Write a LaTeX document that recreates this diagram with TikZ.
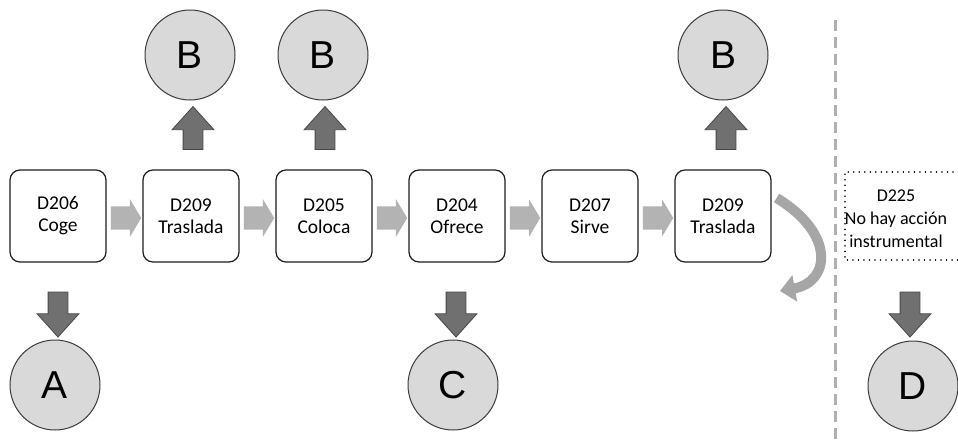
\documentclass[tikz,border=0pt]{standalone}
\usepackage{fontspec}
\setmainfont{Carlito}
\newfontfamily\letterfont{Liberation Sans}
\usetikzlibrary{shapes.arrows,arrows.meta}
\definecolor{circfill}{HTML}{D9D9D9}
\definecolor{circline}{HTML}{3C3C3C}
\definecolor{darkarrow}{HTML}{707070}
\definecolor{darkarrowline}{HTML}{474747}
\definecolor{lightarrow}{HTML}{B3B3B3}
\definecolor{curvecol}{HTML}{A6A6A6}
\definecolor{dashcol}{HTML}{B0B0B0}
\definecolor{boxline}{HTML}{1E1E1E}
\tikzset{
  stepbox/.style={draw=boxline, line width=1.2pt, fill=white, rounded corners=10pt,
    minimum width=96pt, minimum height=92pt, inner sep=0pt, align=center,
    font=\fontsize{19.5}{22}\selectfont},
  letter/.style={circle, draw=circline, line width=1pt, fill=circfill,
    minimum size=90pt, inner sep=0pt, font=\letterfont\fontsize{39}{42}\selectfont},
  darrow/.style={single arrow, draw=darkarrowline, line width=0.8pt, fill=darkarrow,
    minimum height=45pt, inner sep=9.5pt, single arrow head extend=11pt,
    single arrow tip angle=84},
  larrow/.style={single arrow, draw=none, fill=lightarrow,
    minimum height=21pt, inner sep=11.5pt, single arrow head extend=7pt,
    single arrow tip angle=118},
  dotframe/.style={draw=black, line width=1.6pt, dash pattern=on 0.01pt off 5.5pt, line cap=round},
  notebox/.style={align=center, inner sep=0pt, font=\fontsize{18}{23}\selectfont},
}
\begin{document}
\begin{tikzpicture}[x=1pt,y=-1pt]
\useasboundingbox (0,0) rectangle (958,440);
\clip (0,0) rectangle (958,440);
\fill[white] (0,0) rectangle (958,440);

% dashed separator
\draw[dashcol, line width=3pt, dash pattern=on 11pt off 6pt] (835,20) -- (835,440);

% process boxes
\node[stepbox] (b1) at (58,216)  {D206\\Coge};
\node[stepbox] (b2) at (191,216) {D209\\Traslada};
\node[stepbox] (b3) at (324,216) {D205\\Coloca};
\node[stepbox] (b4) at (457,216) {D204\\Ofrece};
\node[stepbox] (b5) at (590,216) {D207\\Sirve};
\node[stepbox] (b6) at (723,216) {D209\\Traslada};

% light arrows between boxes
\node[larrow] (l1) at (122.5,218) {};
\node[larrow] (l2) at (255.5,218) {};
\node[larrow] (l3) at (388.5,218) {};
\node[larrow] (l4) at (521.5,218) {};
\node[larrow] (l5) at (654.5,218) {};

% D225 note box
\node[notebox] (d225) at (896,219) {D225\\No hay acción\\instrumental};
\draw[dotframe] (975,172) -- (845,172) -- (845,260) -- (975,260);

% circles
\node[letter] (ca) at (55,385)  {A};
\node[letter] (cb1) at (190,55) {B};
\node[letter] (cb2) at (323,55) {B};
\node[letter] (cb3) at (723,55) {B};
\node[letter] (cc) at (453,385) {C};
\node[letter] (cd) at (913,386) {D};

% dark block arrows
\node[darrow, rotate=-90] (da) at (58,309) {};
\node[darrow, rotate=-90] (dc) at (456,309) {};
\node[darrow, rotate=-90] (dd) at (910,309) {};
\node[darrow, rotate=90, minimum height=43pt] (ub1) at (193,133.5) {};
\node[darrow, rotate=90, minimum height=43pt] (ub2) at (325,133.5) {};
\node[darrow, rotate=90, minimum height=43pt] (ub3) at (726,133.5) {};

% curved return arrow
\coordinate (cend) at (780,291);
\draw[curvecol, line width=10pt, -{Triangle[length=15pt,width=26pt]}]
  ([xshift=5pt,yshift=18pt]b6.east) .. controls (836,234) and (830,282) .. (cend);
\end{tikzpicture}
\end{document}
